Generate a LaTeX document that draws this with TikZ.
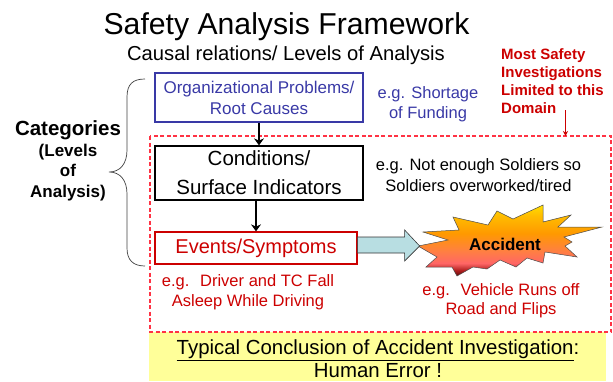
\documentclass[tikz,border=0pt]{standalone}
\usepackage{fontspec}
\usetikzlibrary{arrows.meta}
\setmainfont{Liberation Sans}
\definecolor{bluebox}{HTML}{3939A6}
\definecolor{redbox}{HTML}{CC0000}
\definecolor{reddash}{HTML}{FF3344}
\definecolor{yellowbar}{HTML}{FFFF99}
\definecolor{arrowfill}{HTML}{B8DEE2}
\definecolor{burstA}{HTML}{5A0A0A}
\definecolor{burstB}{HTML}{B02020}
\definecolor{burstC}{HTML}{FF6666}
\definecolor{burstD}{HTML}{FF8040}
\definecolor{burstE}{HTML}{FF9900}
\definecolor{burstF}{HTML}{FFBB00}
\definecolor{burstG}{HTML}{FFDD00}
\pgfdeclareverticalshading{burst}{100bp}{
  color(0bp)=(burstA);
  color(25bp)=(burstA);
  color(29bp)=(burstB);
  color(34bp)=(burstC);
  color(43bp)=(burstD);
  color(55bp)=(burstE);
  color(67bp)=(burstF);
  color(75bp)=(burstG);
  color(100bp)=(burstG)}
\tikzset{
  txt/.style={align=center,inner sep=0pt},
  levelbox/.style={draw,line width=1.3pt,align=center,inner sep=0pt},
  flow/.style={-{Stealth[length=7pt,width=10pt]},line width=1.5pt},
}
\newcommand{\fsz}[2]{\fontsize{#1}{#2}\selectfont}
\begin{document}
\begin{tikzpicture}[x=1pt,y=-1pt]
    \useasboundingbox (0,0) rectangle (613,381);

    \node[txt,font=\fsz{30.2}{32}] (title) at (286.5,27) {Safety Analysis Framework};
    \node[txt,font=\fsz{20.2}{22}] (subtitle) at (286,55) {Causal relations/ Levels of Analysis};

    % conclusion bar and domain
    \fill[yellowbar] (149,332) rectangle (606,381);
    \draw[reddash,dash pattern=on 4pt off 2.5pt,line width=1.2pt] (150,136) rectangle (611,332);
    \node[txt,font=\fsz{20.4}{22.5}] (conclusion) at (378,358.5) {\underline{Typical Conclusion of Accident Investigation}:\\Human Error !};

    % levels
    \node[levelbox,bluebox,text=bluebox,font=\fsz{17}{21},minimum width=208pt,minimum height=49pt] (root) at (259,97.5) {Organizational Problems/\\Root Causes};
    \node[levelbox,black,font=\fsz{20.5}{29},minimum width=208pt,minimum height=54pt] (cond) at (259,173) {Conditions/\\Surface Indicators};
    \node[levelbox,redbox,text=redbox,font=\fsz{20}{22},minimum width=202pt,minimum height=32pt] (event) at (256,248) {Events/Symptoms};

    \draw[flow] (root) -- (cond);
    \draw[flow] (event.north |- cond.south) -- (event.north);

    % brace
    \coordinate (bracetop) at (145,79);
    \coordinate (bracetip) at (109,172);
    \coordinate (bracebot) at (145,266);
    \draw[black!75,line width=.7pt] (bracetop) .. controls (133,79) and (127,84) .. (127,97) -- (127,150)
        .. controls (127,164) and (120,172) .. (bracetip)
        .. controls (120,172) and (127,180) .. (127,194) -- (127,248)
        .. controls (127,260) and (133,266) .. (bracebot);
    \node[txt,font=\bfseries\fsz{20.5}{22}] (categories) at (68,130) {Categories};
    \node[txt,font=\bfseries\fsz{17}{20.5}] (levels) at (68,172.5) {(Levels\\of\\Analysis)};

    % examples
    \node[txt,bluebox,font=\fsz{16.5}{20}] (funding) at (428,104) {e.g. Shortage\\of Funding};
    \node[txt,font=\fsz{16.5}{21}] (soldiers) at (478.5,175.5) {e.g. Not enough Soldiers so\\Soldiers overworked/tired};
    \node[txt,redbox,font=\fsz{16.5}{20}] (driver) at (248,292) {e.g.~ Driver and TC Fall\\Asleep While Driving};
    \node[txt,redbox,font=\fsz{16.5}{19.5}] (flips) at (501,300.5) {e.g.~ Vehicle Runs off\\Road and Flips};

    % note on the domain
    \node[txt,redbox,align=left,anchor=north west,font=\bfseries\fsz{15}{18}] (note) at (501,48) {Most Safety\\Investigations\\Limited to this\\Domain};
    \coordinate (domain) at (565.5,136);
    \draw[redbox,-{Stealth[length=5pt,width=5pt]},line width=.8pt] (domain |- note.south) ++(0,-3) -- (domain);

    % accident burst
    \draw[black!70,line width=.5pt,shading=burst] (418,246) -- (448,240) -- (423,232) -- (459,230) -- (453,217) -- (488,225) -- (497,211) -- (513,219) -- (543,205) -- (543,222) -- (571,215) -- (558,227) -- (602,227) -- (564,237) -- (572,242) -- (565,246) -- (577,257) -- (545,252) -- (543,263) -- (527,258) -- (516,267) -- (500,260) -- (487,269) -- (473,267) -- (457,276) -- (452,267) -- (426,267) -- (437,257) -- cycle;
    \node[txt,font=\bfseries\fsz{17}{19}] (accident) at (505,244) {Accident};

    \draw[black!80,line width=.6pt,fill=arrowfill] (event.east) ++(0,-11) -- ++(47,0) -- ++(0,-7) -- ++(15,16) -- ++(-15,15) -- ++(0,-8) -- ++(-47,0) -- cycle;
\end{tikzpicture}
\end{document}
